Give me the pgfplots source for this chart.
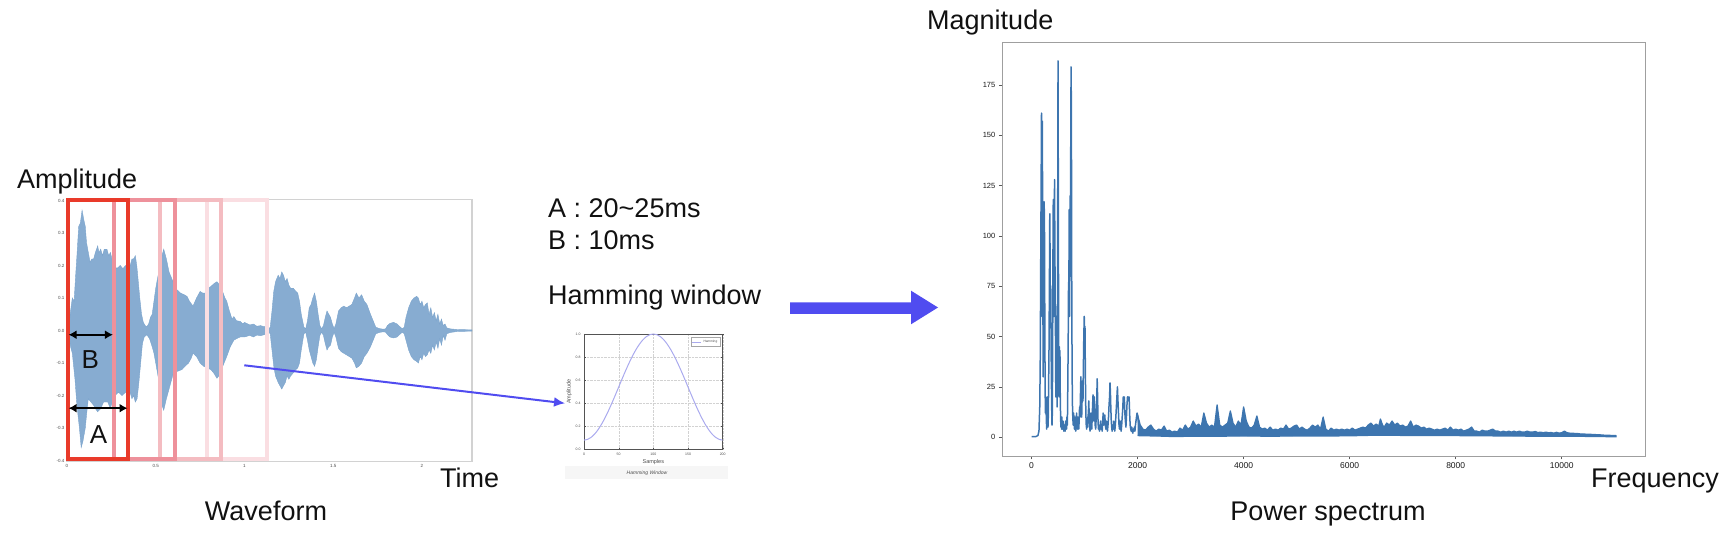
\documentclass[border=0pt]{standalone}
\usepackage{fontspec}
\setmainfont{Liberation Sans}
\usepackage{pgfplots}
\pgfplotsset{compat=1.18}
\usetikzlibrary{arrows.meta}
\definecolor{wave}{RGB}{122,163,204}
\definecolor{spec}{RGB}{61,117,175}
\definecolor{frA}{RGB}{233,58,42}
\definecolor{frB}{RGB}{238,145,155}
\definecolor{frC}{RGB}{244,188,193}
\definecolor{frD}{RGB}{250,222,226}
\definecolor{arr}{RGB}{80,76,240}
\definecolor{ham}{RGB}{170,170,238}
\definecolor{txt}{RGB}{17,17,17}
\begin{document}
\begin{tikzpicture}[x=1pt,y=1pt,font=\fontsize{27}{32}\selectfont]
\useasboundingbox (0,0) rectangle (1729,535);

% ---------------- Waveform ----------------
\begin{axis}[at={(67pt,73.5pt)}, anchor=south west, scale only axis,
  width=405pt, height=262pt, xmin=0, xmax=2.282, ymin=-0.403, ymax=0.403,
  clip=false,
  axis line style={draw=gray!35, line width=1.3pt},
  xtick={0,0.5,1,1.5,2}, ytick={-0.4,-0.3,-0.2,-0.1,0,0.1,0.2,0.3,0.4},
  tick style={draw=none},
  tick label style={font=\fontsize{4.5}{5}\selectfont, color=gray!60!black},
  xticklabel={\pgfmathprintnumber[assume math mode=true]{\tick}},
  yticklabel={\pgfmathprintnumber[fixed,fixed zerofill,precision=1,assume math mode=true]{\tick}},
  xticklabel style={yshift=1pt}, yticklabel style={xshift=1pt}]
\addplot[fill=wave, draw=wave, line width=0.4pt, fill opacity=0.9] coordinates {
(0,0)(0.01,0.01)(0.02,0.06)(0.03,0.1)(0.04,0.09)(0.05,0.18)(0.056,0.23)(0.066,0.32)(0.075,0.33)(0.085,0.37)(0.095,0.34)(0.103,0.32)(0.11,0.27)(0.12,0.24)(0.13,0.21)(0.14,0.22)(0.15,0.22)(0.16,0.24)(0.173,0.26)(0.18,0.24)(0.19,0.25)(0.2,0.23)(0.21,0.25)(0.225,0.25)(0.235,0.23)(0.245,0.24)(0.253,0.22)(0.27,0.2)(0.28,0.19)(0.3,0.2)(0.315,0.19)(0.33,0.2)(0.347,0.18)(0.356,0.2)(0.366,0.22)(0.375,0.22)(0.385,0.23)(0.393,0.2)(0.4,0.16)(0.41,0.1)(0.42,0.05)(0.43,0.025)(0.44,0.015)(0.45,0.012)(0.46,0.02)(0.47,0.04)(0.48,0.05)(0.49,0.09)(0.5,0.13)(0.51,0.16)(0.525,0.2)(0.535,0.23)(0.545,0.25)(0.555,0.23)(0.56,0.22)(0.575,0.18)(0.59,0.16)(0.605,0.14)(0.62,0.125)(0.64,0.115)(0.66,0.11)(0.676,0.105)(0.69,0.09)(0.71,0.075)(0.73,0.1)(0.75,0.12)(0.765,0.115)(0.78,0.115)(0.795,0.13)(0.81,0.135)(0.83,0.145)(0.845,0.15)(0.86,0.14)(0.873,0.125)(0.89,0.1)(0.9,0.09)(0.915,0.06)(0.93,0.035)(0.94,0.043)(0.955,0.03)(0.976,0.028)(0.99,0.02)(1.0,0.025)(1.03,0.017)(1.05,0.02)(1.07,0.013)(1.09,0.015)(1.11,0.012)(1.125,0.012)(1.135,0.004)(1.145,0.01)(1.155,0.06)(1.165,0.12)(1.175,0.15)(1.19,0.17)(1.2,0.16)(1.21,0.18)(1.22,0.17)(1.23,0.15)(1.24,0.16)(1.25,0.14)(1.26,0.13)(1.275,0.13)(1.29,0.12)(1.3,0.115)(1.31,0.09)(1.32,0.05)(1.335,0.01)(1.345,0.005)(1.355,0.03)(1.365,0.07)(1.375,0.08)(1.385,0.1)(1.395,0.115)(1.405,0.09)(1.415,0.05)(1.425,0.015)(1.435,0.005)(1.445,0.015)(1.455,0.04)(1.465,0.06)(1.475,0.05)(1.485,0.04)(1.495,0.02)(1.505,0.006)(1.515,0.02)(1.53,0.06)(1.545,0.07)(1.56,0.075)(1.575,0.07)(1.59,0.075)(1.605,0.08)(1.62,0.1)(1.63,0.115)(1.645,0.1)(1.66,0.11)(1.675,0.09)(1.69,0.08)(1.71,0.05)(1.725,0.03)(1.74,0.01)(1.76,0.006)(1.78,0.004)(1.795,0.005)(1.805,0.015)(1.82,0.022)(1.84,0.025)(1.86,0.02)(1.875,0.012)(1.89,0.005)(1.9,0.01)(1.91,0.04)(1.925,0.07)(1.94,0.09)(1.955,0.1)(1.97,0.105)(1.98,0.1)(1.99,0.08)(2.0,0.09)(2.01,0.07)(2.02,0.08)(2.03,0.085)(2.04,0.05)(2.05,0.07)(2.06,0.04)(2.07,0.055)(2.08,0.03)(2.09,0.05)(2.1,0.02)(2.11,0.035)(2.12,0.015)(2.13,0.02)(2.14,0.008)(2.16,0.005)(2.2,0.003)(2.282,0.002)
(2.282,-0.002)(2.2,-0.003)(2.16,-0.006)(2.14,-0.01)(2.13,-0.03)(2.12,-0.015)(2.11,-0.045)(2.1,-0.025)(2.09,-0.055)(2.08,-0.035)(2.07,-0.06)(2.06,-0.045)(2.05,-0.07)(2.04,-0.06)(2.03,-0.075)(2.02,-0.08)(2.01,-0.07)(2.0,-0.09)(1.99,-0.08)(1.98,-0.1)(1.97,-0.095)(1.955,-0.09)(1.94,-0.08)(1.925,-0.06)(1.91,-0.03)(1.9,-0.01)(1.89,-0.005)(1.875,-0.012)(1.86,-0.02)(1.84,-0.023)(1.82,-0.02)(1.805,-0.012)(1.795,-0.005)(1.78,-0.004)(1.76,-0.006)(1.74,-0.01)(1.725,-0.03)(1.71,-0.05)(1.69,-0.07)(1.675,-0.08)(1.66,-0.1)(1.645,-0.11)(1.63,-0.115)(1.62,-0.1)(1.605,-0.085)(1.59,-0.08)(1.575,-0.075)(1.56,-0.07)(1.545,-0.065)(1.53,-0.055)(1.515,-0.02)(1.505,-0.006)(1.495,-0.02)(1.485,-0.045)(1.475,-0.05)(1.465,-0.06)(1.455,-0.04)(1.445,-0.015)(1.435,-0.005)(1.425,-0.015)(1.415,-0.05)(1.405,-0.09)(1.395,-0.11)(1.385,-0.1)(1.375,-0.08)(1.365,-0.06)(1.355,-0.03)(1.345,-0.005)(1.335,-0.01)(1.32,-0.06)(1.31,-0.1)(1.3,-0.115)(1.29,-0.12)(1.275,-0.13)(1.26,-0.14)(1.25,-0.15)(1.24,-0.14)(1.23,-0.16)(1.22,-0.17)(1.21,-0.18)(1.2,-0.17)(1.19,-0.16)(1.175,-0.14)(1.165,-0.11)(1.155,-0.06)(1.145,-0.01)(1.135,-0.004)(1.125,-0.012)(1.11,-0.013)(1.09,-0.016)(1.07,-0.014)(1.05,-0.02)(1.03,-0.015)(1.0,-0.02)(0.976,-0.02)(0.955,-0.025)(0.94,-0.03)(0.92,-0.05)(0.9,-0.08)(0.885,-0.1)(0.87,-0.12)(0.855,-0.14)(0.845,-0.147)(0.826,-0.13)(0.81,-0.12)(0.79,-0.115)(0.77,-0.11)(0.75,-0.1)(0.73,-0.08)(0.71,-0.07)(0.7,-0.085)(0.685,-0.1)(0.665,-0.11)(0.648,-0.12)(0.625,-0.125)(0.6,-0.13)(0.58,-0.17)(0.56,-0.21)(0.545,-0.245)(0.535,-0.23)(0.525,-0.2)(0.516,-0.15)(0.5,-0.1)(0.49,-0.07)(0.48,-0.05)(0.465,-0.025)(0.45,-0.013)(0.435,-0.02)(0.425,-0.04)(0.415,-0.1)(0.405,-0.16)(0.395,-0.21)(0.385,-0.22)(0.375,-0.2)(0.366,-0.21)(0.355,-0.19)(0.33,-0.19)(0.31,-0.2)(0.29,-0.19)(0.27,-0.2)(0.255,-0.22)(0.244,-0.24)(0.23,-0.22)(0.206,-0.22)(0.19,-0.24)(0.173,-0.25)(0.16,-0.24)(0.15,-0.23)(0.135,-0.22)(0.12,-0.21)(0.11,-0.26)(0.103,-0.3)(0.09,-0.34)(0.08,-0.36)(0.07,-0.3)(0.056,-0.23)(0.045,-0.15)(0.03,-0.07)(0.02,-0.05)(0.01,-0.01)(0,0)};
% analysis frames
\addplot[frD, line width=4pt] coordinates {(0.95,0.4)(1.127,0.4)(1.127,-0.396)(0.789,-0.396)(0.789,0.4)(0.95,0.4)};
\addplot[frC, line width=4pt] coordinates {(0.7,0.4)(0.868,0.4)(0.868,-0.396)(0.526,-0.396)(0.526,0.4)(0.7,0.4)};
\addplot[frB, line width=4pt] coordinates {(0.44,0.4)(0.607,0.4)(0.607,-0.396)(0.265,-0.396)(0.265,0.4)(0.44,0.4)};
\addplot[frA, line width=4pt] coordinates {(0.17,0.4)(0.345,0.4)(0.345,-0.396)(0.006,-0.396)(0.006,0.4)(0.17,0.4)};
% hop and window length arrows
\addplot[black, line width=1.8pt, {Latex[length=8pt,width=9pt]}-{Latex[length=8pt,width=9pt]}] coordinates {(0.009,-0.013)(0.259,-0.013)};
\addplot[black, line width=1.8pt, {Latex[length=8pt,width=9pt]}-{Latex[length=8pt,width=9pt]}] coordinates {(0.009,-0.239)(0.341,-0.239)};
\node[font=\fontsize{26}{30}\selectfont, text=txt] at (axis cs:0.131,-0.09) {B};
\node[font=\fontsize{26}{30}\selectfont, text=txt] at (axis cs:0.178,-0.321) {A};
\end{axis}

% ---------------- Hamming window ----------------
\fill[gray!7] (565,56) rectangle (728,69);
\begin{axis}[at={(584pt,85.7pt)}, anchor=south west, scale only axis,
  width=138.7pt, height=115.3pt, xmin=0, xmax=200, ymin=0, ymax=1,
  grid=major, grid style={densely dotted, gray!35, line width=0.3pt},
  axis line style={draw=gray!65!black, line width=0.8pt},
  xtick={0,50,100,150,200}, ytick={0,0.2,0.4,0.6,0.8,1},
  major tick length=1.5pt, tick style={gray!60!black, line width=0.3pt},
  tick label style={font=\fontsize{3.5}{4}\selectfont, color=gray!60!black},
  xticklabel={\pgfmathprintnumber[assume math mode=true]{\tick}},
  yticklabel={\pgfmathprintnumber[fixed,fixed zerofill,precision=1,assume math mode=true]{\tick}},
  xlabel={Samples}, ylabel={Amplitude},
  label style={font=\fontsize{5.5}{6}\selectfont, color=gray!60!black},
  xlabel style={yshift=3pt}, ylabel style={yshift=-3pt},
  legend style={at={(0.98,0.97)}, anchor=north east, font=\fontsize{3.2}{4}\selectfont,
    draw=gray!70, line width=0.3pt, inner sep=0.5pt, text=gray!60!black},
  legend image code/.code={\draw[#1, line width=0.6pt] (0pt,0pt) -- (9pt,0pt);}]
\addplot[ham, line width=1pt, smooth] coordinates {
(0,0.08)(5,0.0857)(10,0.1025)(15,0.1301)(20,0.1678)(25,0.2147)(30,0.2696)(35,0.3312)(40,0.3979)(45,0.4680)(50,0.54)(55,0.6120)(60,0.6821)(65,0.7488)(70,0.8104)(75,0.8653)(80,0.9122)(85,0.9499)(90,0.9775)(95,0.9943)(100,1.0)(105,0.9943)(110,0.9775)(115,0.9499)(120,0.9122)(125,0.8653)(130,0.8104)(135,0.7488)(140,0.6821)(145,0.6120)(150,0.54)(155,0.4680)(160,0.3979)(165,0.3312)(170,0.2696)(175,0.2147)(180,0.1678)(185,0.1301)(190,0.1025)(195,0.0857)(200,0.08)};
\addlegendentry{Hamming}
\end{axis}
\node[font=\fontsize{5}{6}\selectfont\itshape, text=gray!60!black] at (647,62) {Hamming Window};

% ---------------- Power spectrum ----------------
\begin{axis}[at={(1002.3pt,79pt)}, anchor=south west, scale only axis,
  width=643pt, height=414pt, xmin=-551.25, xmax=11576.25, ymin=-9.35, ymax=196.35,
  axis line style={draw=gray!75, line width=0.9pt},
  xtick={0,2000,4000,6000,8000,10000}, ytick={0,25,50,75,100,125,150,175},
  tick pos=left, tick align=outside, major tick length=3.5pt,
  tick style={gray!70!black, line width=0.6pt},
  scaled x ticks=false,
  xticklabel={\pgfmathprintnumber[assume math mode=true,1000 sep={}]{\tick}},
  yticklabel={\pgfmathprintnumber[assume math mode=true]{\tick}},
  x tick label style={font=\fontsize{8.5}{9}\selectfont, color=gray!20!black},
  y tick label style={font=\fontsize{7.5}{8}\selectfont, color=gray!20!black}]
\addplot[fill=spec, draw=spec, line width=1.3pt, line join=round] coordinates {
(2000,11)(2050,6)(2100,4)(2150,3.5)(2200,5)(2250,6)(2300,4)(2350,3)(2400,4)(2450,3.5)(2500,5.5)(2550,3)(2600,3.5)(2650,2.5)(2700,3)(2750,2.5)(2800,4.5)(2850,3.5)(2900,6)(2950,4)(3000,5)(3050,8)(3100,5.5)(3150,6.5)(3200,5)(3250,12)(3300,7)(3350,5)(3400,6)(3450,5)(3500,16)(3550,6)(3600,5)(3650,6)(3700,7)(3750,13)(3800,7)(3850,5)(3900,8)(3950,6)(4000,15)(4050,8)(4100,5)(4150,4.5)(4200,6)(4250,10.5)(4300,5)(4350,4)(4400,4.5)(4450,3.5)(4500,5)(4550,3.5)(4600,4)(4650,3.5)(4700,4.5)(4750,4)(4800,6)(4850,4)(4900,4.5)(4950,5.5)(5000,6)(5050,4)(5100,5)(5150,4)(5200,3.5)(5250,4.5)(5300,6)(5350,5)(5400,6)(5450,4)(5500,10)(5550,4)(5600,3)(5650,4.5)(5700,3.5)(5750,4)(5800,3.5)(5850,4)(5900,3.5)(5950,4)(6000,3.5)(6050,4.5)(6100,3.5)(6150,4)(6200,4.5)(6250,5)(6300,4.5)(6350,6)(6400,7)(6450,5.5)(6500,6.5)(6550,5.5)(6580,9)(6620,6)(6650,5)(6700,7)(6750,6)(6800,8)(6850,6)(6900,7)(6950,5.5)(7000,6)(7050,5)(7100,5.5)(7150,8)(7200,5)(7250,6)(7300,5.5)(7350,4.5)(7400,5)(7450,4)(7500,4.5)(7550,4)(7600,3.5)(7650,4)(7700,3.5)(7750,4)(7800,4.5)(7850,3.5)(7900,5)(7950,3.5)(8000,4)(8050,3.5)(8100,4)(8150,3)(8200,3.5)(8250,4)(8300,5)(8350,3)(8400,3)(8450,2.5)(8500,3.5)(8550,3)(8600,3)(8650,3.5)(8700,4)(8750,3)(8800,3)(8850,2.5)(8900,3)(8950,2.5)(9000,3)(9050,2.5)(9100,3)(9150,2.5)(9200,3)(9250,2.5)(9300,2.5)(9350,3)(9400,2.5)(9450,2.5)(9500,2.8)(9550,2.3)(9600,2.5)(9650,2.2)(9700,2.5)(9750,2.2)(9800,2.3)(9850,2)(9900,2.4)(9950,2)(10000,2.2)(10050,3)(10100,2.2)(10150,2)(10200,2)(10250,1.8)(10300,1.8)(10350,1.6)(10400,1.6)(10450,1.5)(10500,1.5)(10600,1.3)(10700,1.2)(10800,1)(10900,0.9)(11025,0.8)
(11025,0.2)(10800,0.3)(10500,0.4)(10000,0.5)(9500,0.5)(9000,0.6)(8500,0.7)(8000,0.8)(7500,0.8)(7000,0.9)(6500,1)(6000,0.7)(5500,0.6)(5000,0.6)(4500,0.5)(4000,0.6)(3500,0.5)(3000,0.5)(2700,0.3)(2500,0.5)(2000,0.8)};
\addplot[spec, line width=1.5pt, line join=round] coordinates {
(0,0.3)(80,0.3)(120,0.8)(140,3)(155,15)(165,40)(172,80)(178,110)(184,140)(188,161)(192,125)(196,60)(200,100)(204,157)(208,120)(214,70)(220,30)(226,80)(232,102)(238,117)(244,105)(250,60)(256,25)(262,12)(268,20)(274,15)(280,8)(286,4)(292,12)(298,20)(304,12)(310,5)(316,10)(322,25)(330,45)(338,80)(344,111)(350,90)(356,60)(362,75)(368,50)(374,30)(380,15)(386,6)(392,12)(398,40)(404,90)(410,118)(416,80)(422,60)(428,100)(434,128)(440,95)(446,70)(452,50)(458,20)(464,35)(470,60)(476,40)(482,15)(488,45)(494,120)(500,187)(506,110)(512,40)(518,20)(524,45)(530,30)(536,43)(542,20)(548,10)(554,5)(560,8)(566,4)(572,10)(578,6)(586,4)(594,8)(602,5)(610,3)(618,6)(626,4)(634,3)(642,8)(650,5)(660,4)(668,10)(676,6)(684,25)(692,50)(698,77)(704,70)(710,113)(716,60)(722,90)(728,120)(734,80)(740,150)(746,184)(752,160)(758,80)(764,40)(770,18)(778,10)(786,6)(794,12)(802,8)(810,4)(818,10)(826,6)(834,3)(842,8)(850,12)(858,6)(866,4)(874,10)(882,6)(890,4)(898,8)(906,15)(914,10)(922,20)(930,30)(938,22)(946,10)(954,20)(962,28)(970,18)(978,35)(986,50)(994,60)(1000,45)(1008,55)(1016,30)(1024,12)(1032,6)(1040,4)(1048,8)(1056,5)(1064,10)(1072,12)(1080,18)(1088,10)(1096,5)(1104,3)(1112,8)(1120,12)(1128,6)(1136,4)(1144,10)(1152,16)(1160,21)(1168,14)(1176,8)(1184,20)(1192,12)(1200,6)(1210,4)(1220,10)(1230,18)(1238,29)(1246,20)(1254,8)(1262,4)(1272,6)(1282,3)(1292,5)(1302,8)(1312,4)(1322,6)(1332,3)(1342,8)(1352,12)(1362,6)(1372,9)(1382,11)(1392,6)(1402,4)(1412,8)(1422,5)(1432,3)(1442,6)(1452,10)(1462,16)(1472,20)(1480,27)(1488,22)(1496,14)(1504,8)(1512,5)(1520,3)(1530,6)(1540,4)(1550,8)(1560,5)(1570,3)(1580,6)(1590,10)(1600,15)(1610,20)(1620,25)(1630,18)(1640,12)(1650,6)(1660,4)(1670,8)(1680,5)(1690,3)(1700,6)(1710,10)(1720,14)(1730,20)(1740,16)(1750,20)(1760,12)(1770,8)(1780,5)(1790,10)(1800,16)(1810,20)(1820,20)(1830,18)(1840,20)(1850,12)(1860,6)(1870,4)(1880,3)(1890,5)(1900,3)(1910,2)(1920,4)(1930,3)(1940,5)(1950,3)(1960,6)(1970,8)(1980,10)(1990,12)(2000,11)(2010,9)(2020,7)(2030,6)(2040,4)(2050,3)(2060,2)(2070,4)(2080,3)};
\end{axis}

% ---------------- arrows ----------------
\draw[arr, line width=2pt, -{Latex[length=11pt,width=10pt]}] (244.3,169.7) -- (565,131.7);
\fill[arr] (790,221) -- (911,221) -- (911,210.7) -- (938,227.5) -- (911,244.3) -- (911,232.7) -- (790,232.7) -- cycle;

% ---------------- texts ----------------
\node[anchor=base west, inner sep=0, text=txt] at (17,346.7) {Amplitude};
\node[anchor=base west, inner sep=0, text=txt] at (440,47) {Time};
\node[anchor=base, inner sep=0, text=txt] at (266,14) {Waveform};
\node[anchor=base west, inner sep=0, text=txt] at (548,317) {A : 20\textasciitilde 25ms};
\node[anchor=base west, inner sep=0, text=txt] at (548,285) {B : 10ms};
\node[anchor=base west, inner sep=0, text=txt] at (548,230) {Hamming window};
\node[anchor=base west, inner sep=0, text=txt] at (927,505) {Magnitude};
\node[anchor=base west, inner sep=0, text=txt] at (1591,47) {Frequency};
\node[anchor=base, inner sep=0, text=txt] at (1328,14) {Power spectrum};
\end{tikzpicture}
\end{document}
